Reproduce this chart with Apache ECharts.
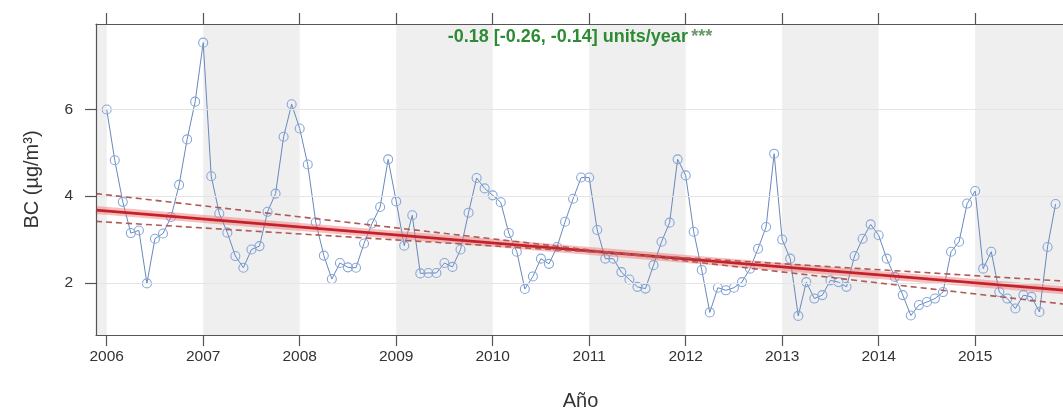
<!DOCTYPE html>
<html>
<head>
<meta charset="utf-8">
<script src="https://cdn.jsdelivr.net/npm/echarts@6/dist/echarts.min.js"></script>
<style>
html,body{margin:0;padding:0;background:#fff;}
#chart{width:1063px;height:410px;}
</style>
</head>
<body>
<div id="chart"></div>
<script>
// ---- data (monthly mean BC, µg/m³) ----
const startYear = 2006;
const bc2006 = [6.00, 4.83, 3.87, 3.15, 3.21, 1.99, 3.02, 3.14, 3.52, 4.26, 5.31, 6.18];
const bc2007 = [7.54, 4.46, 3.60, 3.16, 2.62, 2.35, 2.77, 2.85, 3.64, 4.06, 5.37, 6.12];
const bc2008 = [5.56, 4.73, 3.40, 2.63, 2.09, 2.46, 2.36, 2.35, 2.91, 3.37, 3.75, 4.85];
const bc2009 = [3.88, 2.86, 3.56, 2.22, 2.23, 2.23, 2.46, 2.37, 2.77, 3.62, 4.42, 4.18];
const bc2010 = [4.02, 3.86, 3.15, 2.72, 1.86, 2.15, 2.56, 2.44, 2.83, 3.41, 3.94, 4.43];
const bc2011 = [4.43, 3.22, 2.56, 2.56, 2.25, 2.08, 1.91, 1.87, 2.41, 2.95, 3.39, 4.85];
const bc2012 = [4.48, 3.18, 2.30, 1.32, 1.89, 1.83, 1.89, 2.02, 2.33, 2.79, 3.29, 4.98];
const bc2013 = [3.00, 2.56, 1.24, 2.02, 1.64, 1.72, 2.06, 2.02, 1.91, 2.62, 3.02, 3.35];
const bc2014 = [3.10, 2.56, 2.14, 1.72, 1.25, 1.49, 1.56, 1.64, 1.79, 2.72, 2.95, 3.83];
const bc2015 = [4.12, 2.33, 2.72, 1.79, 1.64, 1.41, 1.72, 1.68, 1.33, 2.83, 3.82];

// Theil-Sen trend and its confidence lines: values at the left and right plot edges
const trendMain  = [3.68, 1.83];
const trendSteep = [4.06, 1.51];
const trendFlat  = [3.42, 2.04];

const yearTicks = [2006, 2007, 2008, 2009, 2010, 2011, 2012, 2013, 2014, 2015];
const yTicks = [2, 4, 6];
const shadedYears = [[null, 2006], [2007, 2008], [2009, 2010], [2011, 2012], [2013, 2014], [2015, null]];
const trendText = '-0.18 [-0.26, -0.14] units/year';
const sigText = '***';

// ---- build ----
const xMin = 2005.889, xMax = 2015.931;
const bcAll = [].concat(bc2006, bc2007, bc2008, bc2009, bc2010, bc2011, bc2012, bc2013, bc2014, bc2015);
const bcData = bcAll.map((v, i) => [startYear + i / 12, v]);
const edge = [xMin, xMax];
const mk = arr => arr.map((v, i) => [edge[i], v]);

const font = 'Liberation Sans, Arial, sans-serif';
const axisCol = '#555';

const chart = echarts.init(document.getElementById('chart'), null, {renderer: 'canvas'});
chart.setOption({
  animation: false,
  backgroundColor: '#ffffff',
  grid: {left: 96, top: 24, right: -2, bottom: 75, containLabel: false, outerBoundsMode: 'none'},
  xAxis: [{
    type: 'value', min: xMin, max: xMax, position: 'bottom', z: 10,
    axisLine: {show: true, onZero: false, lineStyle: {color: axisCol, width: 1.2}},
    axisTick: {show: true, customValues: yearTicks, length: 11, lineStyle: {color: axisCol, width: 1.2}},
    axisLabel: {customValues: yearTicks, formatter: v => String(Math.round(v)), margin: 14,
      fontSize: 15.5, color: '#333', fontFamily: font},
    splitLine: {show: false},
    name: 'Año', nameLocation: 'middle', nameGap: 56,
    nameTextStyle: {fontSize: 20, color: '#333', fontFamily: font}
  }, {
    type: 'value', min: xMin, max: xMax, position: 'top', z: 10,
    axisLine: {show: true, onZero: false, lineStyle: {color: axisCol, width: 1.2}},
    axisTick: {show: true, customValues: yearTicks, length: 11, lineStyle: {color: axisCol, width: 1.2}},
    axisLabel: {show: false},
    splitLine: {show: false}
  }],
  yAxis: [{
    type: 'value', min: 0.8, max: 7.97, z: 10,
    axisLine: {show: true, onZero: false, lineStyle: {color: axisCol, width: 1.2}},
    axisTick: {show: true, customValues: yTicks, length: 11, lineStyle: {color: axisCol, width: 1.2}},
    axisLabel: {customValues: yTicks, margin: 23, fontSize: 15.5, color: '#333', fontFamily: font},
    splitLine: {show: false},
    name: 'BC (µg/m³)', nameLocation: 'middle', nameGap: 54, nameRotate: 90,
    nameTextStyle: {fontSize: 20, color: '#333', fontFamily: font}
  }],
  graphic: [{
    type: 'text', x: 580, y: 37, z: 20,
    style: {
      text: '{a|' + trendText + '} {b|' + sigText + '}',
      align: 'center', verticalAlign: 'middle',
      rich: {
        a: {fontSize: 18, fontWeight: 'bold', fill: '#2f8a34', fontFamily: font},
        b: {fontSize: 18, fontWeight: 'bold', fill: '#6a9a6a', fontFamily: font}
      }
    }
  }],
  series: [
    {
      type: 'line', z: 1, silent: true, data: [], symbol: 'none',
      markArea: {
        silent: true,
        itemStyle: {color: '#efefef'},
        data: shadedYears.map(p => [
          p[0] === null ? {xAxis: 'min'} : {xAxis: p[0]},
          p[1] === null ? {xAxis: 'max'} : {xAxis: p[1]}
        ])
      },
      markLine: {
        silent: true, symbol: 'none', label: {show: false},
        lineStyle: {color: '#e4e4e4', width: 1, type: 'solid'},
        data: yTicks.map(v => ({yAxis: v}))
      }
    },
    {
      type: 'line', z: 3, data: bcData,
      symbol: 'circle', symbolSize: 9,
      itemStyle: {color: 'rgba(255,255,255,0)', borderColor: '#86a7da', borderWidth: 1.1},
      lineStyle: {color: '#6a88ba', width: 1},
      silent: true
    },
    {
      type: 'line', z: 4, data: mk(trendMain), symbol: 'none', silent: true,
      lineStyle: {color: 'rgba(240,110,110,0.45)', width: 8}
    },
    {
      type: 'line', z: 5, data: mk(trendMain), symbol: 'none', silent: true,
      lineStyle: {color: '#c4222b', width: 2.6}
    },
    {
      type: 'line', z: 5, data: mk(trendSteep), symbol: 'none', silent: true,
      lineStyle: {color: '#b05a56', width: 1.6, type: [6, 4]}
    },
    {
      type: 'line', z: 5, data: mk(trendFlat), symbol: 'none', silent: true,
      lineStyle: {color: '#b05a56', width: 1.6, type: [6, 4]}
    }
  ]
});
</script>
</body>
</html>
